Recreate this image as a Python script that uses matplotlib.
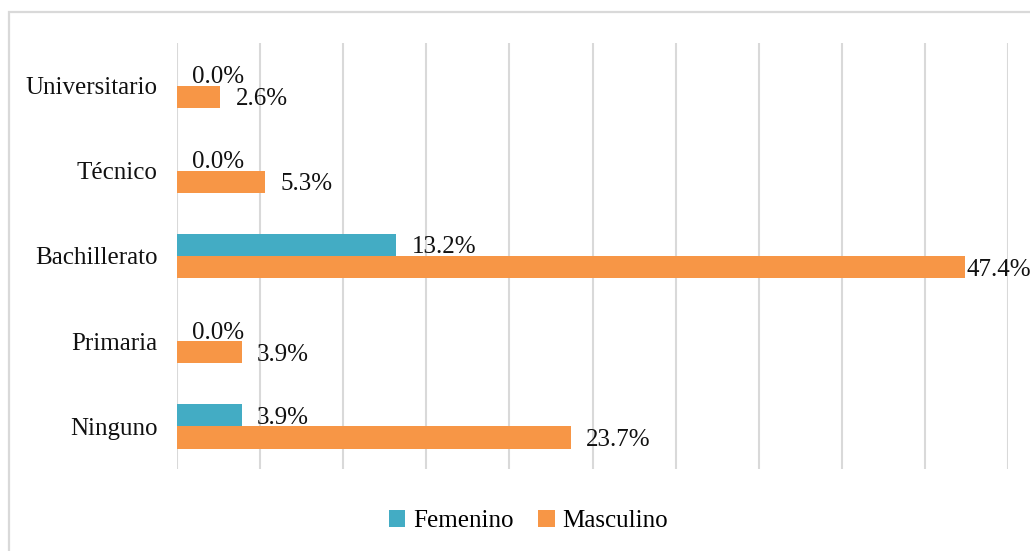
import matplotlib.pyplot as plt
from matplotlib.patches import Rectangle
import numpy as np

categorias = ['Universitario', 'Técnico', 'Bachillerato', 'Primaria', 'Ninguno']
femenino = [0.0, 0.0, 13.2, 0.0, 3.9]
masculino = [2.6, 5.3, 47.4, 3.9, 23.7]

plt.rcParams['font.family'] = ['Liberation Serif', 'DejaVu Serif']

fig = plt.figure(figsize=(10.3, 5.51), dpi=100)
ax = fig.add_axes([177 / 1030, 1 - 469 / 551, (1008 - 177) / 1030, (469 - 43) / 551])

# marco exterior
fig.patches.append(Rectangle((9 / 1030, -0.1), 1.2, 1 - 12 / 551 + 0.1,
                             transform=fig.transFigure, fill=False,
                             edgecolor='#D9D9D9', linewidth=1.6))

y = np.arange(len(categorias))
h = 0.26
azul = '#43ACC4'
naranja = '#F79646'

b1 = ax.barh(y - h / 2, femenino, height=h, color=azul, label='Femenino')
b2 = ax.barh(y + h / 2, masculino, height=h, color=naranja, label='Masculino')

vmax = max(masculino + femenino)
for barras, vals in ((b1, femenino), (b2, masculino)):
    for rect, v in zip(barras, vals):
        off = 1.5 if v == vmax else 11
        ax.annotate(f'{v:.1f}%', (v, rect.get_y() + rect.get_height() / 2 + 0.03),
                    xytext=(off, 0), textcoords='offset points',
                    va='center', ha='left', fontsize=18, color='#111111')

ax.set_ylim(len(categorias) - 0.5, -0.5)
ax.set_xlim(0, 50)
ax.set_yticks(y)
ax.set_yticklabels(categorias, fontsize=18, color='#111111')
ax.set_xticks(np.arange(0, 51, 5))
ax.tick_params(axis='x', labelbottom=False, length=0)
ax.tick_params(axis='y', length=0, pad=14)
ax.grid(axis='x', color='#D9D9D9', linewidth=1.5)
ax.set_axisbelow(True)
for s in ax.spines.values():
    s.set_visible(False)

fig.legend(handles=[b1, b2], loc='center', bbox_to_anchor=(0.513, 1 - 521 / 551),
           ncol=2, frameon=False, fontsize=18, handlelength=0.65, handleheight=0.65,
           handletextpad=0.3, columnspacing=1.0)

fig.savefig('out.png', dpi=100)
